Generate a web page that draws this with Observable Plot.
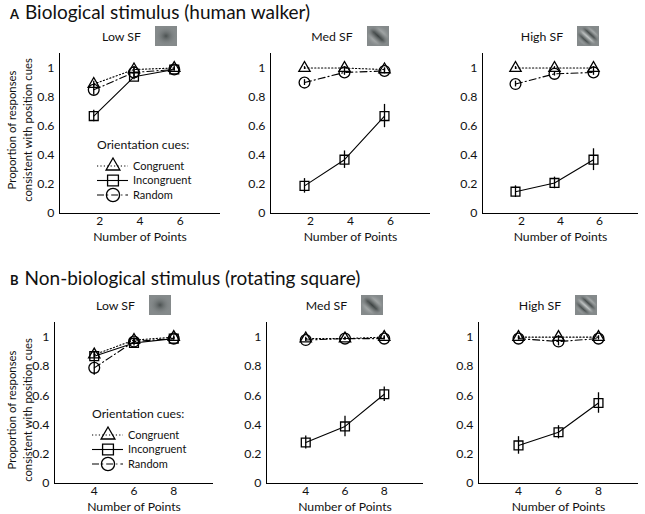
<!DOCTYPE html>
<html><head><meta charset="utf-8">
<script src="https://cdn.jsdelivr.net/npm/d3@7"></script>
<script src="https://cdn.jsdelivr.net/npm/@observablehq/plot@0.6"></script>
<style>
body{margin:0;background:#fff;}
#root{position:relative;width:645px;height:514px;font-family:Lato,"Open Sans",sans-serif;color:#111;overflow:hidden;background:#fff}
.abs{position:absolute}
.hdr{position:absolute;display:flex;justify-content:center;align-items:center;gap:14px;font-size:12.3px;height:22px}
.sec{position:absolute;left:10px;font-size:19px;white-space:nowrap;line-height:22px}
.sec b{font-size:13px;margin-right:6px}
.ylab{position:absolute;font-size:11.3px;line-height:16px;text-align:center;white-space:nowrap;transform:translate(-50%,-50%) rotate(-90deg)}
</style></head><body><div id="root"></div>
<script>
// ---------- data ----------
const pointsA = [2, 4, 6];
const pointsB = [4, 6, 8];
const panelTitles = ["Low SF", "Med SF", "High SF"];
const seriesNames = ["Congruent", "Incongruent", "Random"];
const yTicks = [0, 0.2, 0.4, 0.6, 0.8, 1];
const sectionTitles = ["Biological stimulus (human walker)", "Non-biological stimulus (rotating square)"];
const legendTitle = "Orientation cues:";
const xLabel = "Number of Points";
const yLabelLines = ["Proportion of responses", "consistent with position cues"];

// A: biological, Low / Med / High SF
const aLowCong = [0.89, 0.99, 1.00],   aLowCongErr = [0.02, 0.02, 0.01];
const aLowInc  = [0.67, 0.94, 0.99],   aLowIncErr  = [0.04, 0.02, 0.01];
const aLowRand = [0.85, 0.97, 0.99],   aLowRandErr = [0.035, 0.03, 0.01];
const aMedCong = [1.00, 1.00, 0.99],   aMedCongErr = [0.01, 0.01, 0.01];
const aMedInc  = [0.19, 0.37, 0.67],   aMedIncErr  = [0.05, 0.06, 0.08];
const aMedRand = [0.90, 0.97, 0.98],   aMedRandErr = [0.02, 0.02, 0.02];
const aHighCong = [1.00, 1.00, 1.00],  aHighCongErr = [0.01, 0.01, 0.01];
const aHighInc  = [0.15, 0.21, 0.37],  aHighIncErr  = [0.04, 0.04, 0.075];
const aHighRand = [0.89, 0.96, 0.97],  aHighRandErr = [0.02, 0.015, 0.02];
// B: non-biological, Low / Med / High SF
const bLowCong = [0.88, 0.98, 1.00],   bLowCongErr = [0.02, 0.02, 0.01];
const bLowInc  = [0.87, 0.96, 0.99],   bLowIncErr  = [0.03, 0.02, 0.01];
const bLowRand = [0.79, 0.97, 0.99],   bLowRandErr = [0.05, 0.02, 0.01];
const bMedCong = [0.99, 0.99, 1.00],   bMedCongErr = [0.01, 0.01, 0.01];
const bMedInc  = [0.28, 0.39, 0.61],   bMedIncErr  = [0.045, 0.07, 0.05];
const bMedRand = [0.98, 0.99, 0.99],   bMedRandErr = [0.01, 0.01, 0.01];
const bHighCong = [1.00, 1.00, 1.00],  bHighCongErr = [0.01, 0.01, 0.01];
const bHighInc  = [0.26, 0.35, 0.55],  bHighIncErr  = [0.06, 0.045, 0.07];
const bHighRand = [0.99, 0.97, 0.99],  bHighRandErr = [0.01, 0.03, 0.01];

// ---------- styles ----------
const FONT = 'Lato,"Open Sans",sans-serif';
const seriesStyle = {
  Congruent:   {symbol: "triangle", r: 4.2, dash: "1.2,2.2", d3sym: d3.symbolTriangle},
  Incongruent: {symbol: "square",   r: 5.0, dash: null,      d3sym: d3.symbolSquare},
  Random:      {symbol: "circle",   r: 5.4, dash: "7,3,1.2,3", d3sym: d3.symbolCircle}
};

function table(points, vals, errs) {
  const out = [];
  seriesNames.forEach((s, i) => points.forEach((n, j) => out.push({series: s, n, v: vals[i][j], e: errs[i][j]})));
  return out;
}

const rows = [
  {id: "A", points: pointsA, xDomain: [0, 8], dx: -6, secTop: 1, y0: 53, y1: 213, ylabC: 130,
   cols: [[59, 220], [270, 430], [482, 638]],
   panels: [
     table(pointsA, [aLowCong, aLowInc, aLowRand], [aLowCongErr, aLowIncErr, aLowRandErr]),
     table(pointsA, [aMedCong, aMedInc, aMedRand], [aMedCongErr, aMedIncErr, aMedRandErr]),
     table(pointsA, [aHighCong, aHighInc, aHighRand], [aHighCongErr, aHighIncErr, aHighRandErr])
   ]},
  {id: "B", points: pointsB, xDomain: [2, 10], dx: 0, secTop: 267, y0: 322, y1: 483, ylabC: 410,
   cols: [[54, 213], [266, 423], [478, 638]],
   panels: [
     table(pointsB, [bLowCong, bLowInc, bLowRand], [bLowCongErr, bLowIncErr, bLowRandErr]),
     table(pointsB, [bMedCong, bMedInc, bMedRand], [bMedCongErr, bMedIncErr, bMedRandErr]),
     table(pointsB, [bHighCong, bHighInc, bHighRand], [bHighCongErr, bHighIncErr, bHighRandErr])
   ]}
];

const root = document.getElementById("root");
let gid = 0;

function gabor(kind) {
  const id = "g" + (gid++);
  const ns = "http://www.w3.org/2000/svg";
  let stripes;
  if (kind === 0) stripes = null;
  else if (kind === 1) stripes = [["0", "#8a8f90"], ["0.3", "#a9adad"], ["0.5", "#3d4343"], ["0.7", "#a9adad"], ["1", "#8a8f90"]];
  else stripes = [["0", "#8a8f90"], ["0.2", "#b7bbbb"], ["0.33", "#3f4545"], ["0.47", "#c4c8c8"], ["0.6", "#3f4545"], ["0.73", "#b7bbbb"], ["0.86", "#555b5b"], ["1", "#8a8f90"]];
  let defs = `<radialGradient id="${id}m" cx="0.5" cy="0.5" r="0.5"><stop offset="0" stop-color="#fff"/><stop offset="0.55" stop-color="#fff" stop-opacity="0.8"/><stop offset="1" stop-color="#fff" stop-opacity="0"/></radialGradient><mask id="${id}k"><rect width="22" height="20" fill="url(#${id}m)"/></mask>`;
  let body = `<rect width="22" height="20" fill="#858a8b"/>`;
  if (stripes) {
    defs += `<linearGradient id="${id}l" x1="0" y1="1" x2="1" y2="0">` + stripes.map(s => `<stop offset="${s[0]}" stop-color="${s[1]}"/>`).join("") + `</linearGradient>`;
    body += `<rect width="22" height="20" fill="url(#${id}l)" mask="url(#${id}k)"/>`;
  } else {
    defs += `<radialGradient id="${id}c" cx="0.5" cy="0.5" r="0.5"><stop offset="0" stop-color="#4b5151"/><stop offset="1" stop-color="#858a8b" stop-opacity="0"/></radialGradient>`;
    body += `<rect width="22" height="20" fill="url(#${id}c)"/>`;
  }
  const span = document.createElement("span");
  span.innerHTML = `<svg xmlns="${ns}" width="22" height="20" style="display:block"><defs>${defs}</defs>${body}</svg>`;
  return span.firstChild;
}

rows.forEach((row, ri) => {
  // section title
  const sec = document.createElement("div");
  sec.className = "sec";
  sec.style.top = row.secTop + "px";
  sec.innerHTML = `<b>${row.id}</b>${sectionTitles[ri]}`;
  root.appendChild(sec);

  // y label
  const yl = document.createElement("div");
  yl.className = "ylab";
  yl.style.left = "20px";
  yl.style.top = row.ylabC + "px";
  yl.innerHTML = yLabelLines.join("<br>");
  root.appendChild(yl);

  row.cols.forEach(([x0, x1], ci) => {
    const data = row.panels[ci];
    const mL = 40, mR = 6, mT = 8, mB = 44;
    const dx = row.dx;
    const marks = [
      Plot.ruleY([0], {stroke: "#000", strokeWidth: 1}),
      Plot.ruleX([row.xDomain[0]], {stroke: "#000", strokeWidth: 1}),
      Plot.axisX({ticks: row.points, tickSize: 0, tickPadding: 3, fontSize: 12, label: null, tickFormat: d => String(d)}),
      Plot.axisY({ticks: yTicks, tickSize: 0, tickPadding: 5, fontSize: 12.3, label: null,
                  tickFormat: d => (d === 0 ? "0" : d === 1 ? "1" : d.toFixed(1))}),
      Plot.text([xLabel], {frameAnchor: "bottom", dy: 27, fontSize: 12.2, fill: "#111"})
    ];
    seriesNames.forEach(s => {
      const st = seriesStyle[s];
      const sd = data.filter(d => d.series === s);
      marks.push(Plot.line(sd, {x: "n", y: "v", stroke: "#000", strokeWidth: 1.1, strokeDasharray: st.dash, dx}));
      marks.push(Plot.ruleX(sd, {x: "n", y1: d => d.v - d.e, y2: d => d.v + d.e, stroke: "#000", strokeWidth: 1.3, dx}));
      marks.push(Plot.dot(sd, {x: "n", y: "v", symbol: st.symbol, r: st.r, stroke: "#000", fill: "none", strokeWidth: 1.3, dx}));
    });
    const plot = Plot.plot({
      width: (x1 - x0) + mL + mR, height: (row.y1 - row.y0) + mT + mB,
      marginLeft: mL, marginRight: mR, marginTop: mT, marginBottom: mB,
      style: {fontFamily: FONT, fontSize: "12px", color: "#111", background: "transparent", overflow: "visible"},
      x: {domain: row.xDomain},
      y: {domain: [0, 1.1]},
      marks
    });
    plot.classList.add("abs");
    plot.style.left = (x0 - mL) + "px";
    plot.style.top = (row.y0 - mT) + "px";
    root.appendChild(plot);

    // panel header
    const hdr = document.createElement("div");
    hdr.className = "hdr";
    hdr.style.left = x0 + "px";
    hdr.style.width = (x1 - x0) + "px";
    hdr.style.top = (row.y0 - 28) + "px";
    const t = document.createElement("span");
    t.textContent = panelTitles[ci];
    hdr.appendChild(t);
    hdr.appendChild(gabor(ci));
    root.appendChild(hdr);

    // legend in first panel of each row
    if (ci === 0) {
      const lg = d3.select(root).append("svg")
        .attr("class", "abs").attr("width", 120).attr("height", 78)
        .style("left", (x0 + 36) + "px").style("top", (row.y0 + 82) + "px")
        .style("font-family", FONT);
      lg.append("text").attr("x", 2).attr("y", 10).attr("dy", "0.35em").attr("font-size", 12.2).attr("fill", "#111").text(legendTitle);
      seriesNames.forEach((s, i) => {
        const st = seriesStyle[s];
        const cy = 31 + i * 14.5;
        lg.append("line").attr("x1", 2).attr("x2", 33).attr("y1", cy).attr("y2", cy)
          .attr("stroke", "#000").attr("stroke-width", 1.1).attr("stroke-dasharray", st.dash);
        lg.append("path").attr("d", d3.symbol(st.d3sym, Math.PI * st.r * st.r * 1.5)())
          .attr("transform", `translate(18,${cy})`).attr("fill", "none").attr("stroke", "#000").attr("stroke-width", 1.3);
        lg.append("text").attr("x", 38).attr("y", cy).attr("dy", "0.35em").attr("font-size", 11).attr("fill", "#111").text(s);
      });
    }
  });
});
</script>
</body></html>
